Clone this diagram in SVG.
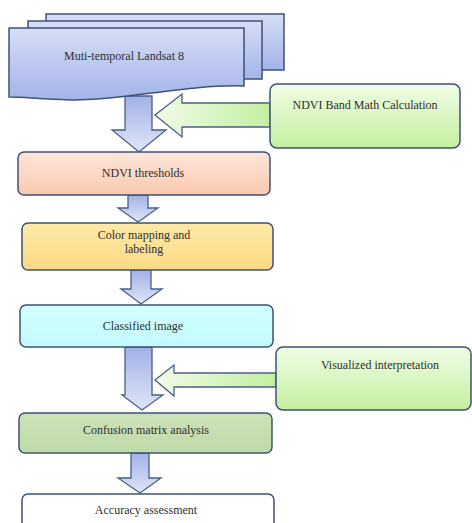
<svg xmlns="http://www.w3.org/2000/svg" width="472" height="523" viewBox="0 0 472 523">
<defs>
<linearGradient id="gDoc" x1="0" y1="0" x2="0" y2="1"><stop offset="0" stop-color="#d6ddf6"/><stop offset="1" stop-color="#a4b4ea"/></linearGradient>
<linearGradient id="gDown" x1="0" y1="0" x2="0" y2="1"><stop offset="0" stop-color="#a2b1e7"/><stop offset="1" stop-color="#dfe5f8"/></linearGradient>
<linearGradient id="gLeft" x1="0" y1="0" x2="1" y2="0"><stop offset="0" stop-color="#f0fbe8"/><stop offset="1" stop-color="#c3efa0"/></linearGradient>
<linearGradient id="gGreen" x1="0" y1="0" x2="0" y2="1"><stop offset="0" stop-color="#f0fde6"/><stop offset="1" stop-color="#c4efa0"/></linearGradient>
<linearGradient id="gPeach" x1="0" y1="0" x2="0" y2="1"><stop offset="0" stop-color="#fde6da"/><stop offset="1" stop-color="#fbc8b0"/></linearGradient>
<linearGradient id="gYellow" x1="0" y1="0" x2="0" y2="1"><stop offset="0" stop-color="#fde9a8"/><stop offset="1" stop-color="#fcda84"/></linearGradient>
<linearGradient id="gCyan" x1="0" y1="0" x2="0" y2="1"><stop offset="0" stop-color="#d2ffff"/><stop offset="1" stop-color="#c2fbfd"/></linearGradient>
<linearGradient id="gOlive" x1="0" y1="0" x2="0" y2="1"><stop offset="0" stop-color="#cbe2b8"/><stop offset="1" stop-color="#c0daa8"/></linearGradient>
</defs>
<style>
.box{stroke:#3e5275;stroke-width:1.5}
.doc{stroke:#3e5275;stroke-width:1.5;fill:url(#gDoc)}
.down{fill:url(#gDown);stroke:#4b5f86;stroke-width:1.3}
.left{fill:url(#gLeft);stroke:#4b5f86;stroke-width:1.3}
text{font-family:"Liberation Serif","Times New Roman",serif;font-size:12px;fill:#2f2f2f;text-anchor:middle}
</style>
<g id="connectors">
<path class="down" d="M125,96 H152 V130 H166 L139,152 L112,130 H125 Z"/>
<path class="left" d="M270,103 H182 V94 L155,115 L182,137 V127 H270 Z"/>
<path class="down" d="M128,195 H148 V208 H158 L138,222 L118,208 H128 Z"/>
<path class="down" d="M131,270 H151 V289 H162 L141,304 L121,289 H131 Z"/>
<path class="down" d="M125,347 H152 V395 H163 L142,410 L122,395 H125 Z"/>
<path class="left" d="M276,373 H174 V365 L155,380 L174,396 V387 H276 Z"/>
<path class="down" d="M131,453 H149 V478 H161 L140,493 L118,478 H131 Z"/>
</g>
<g id="landsat">
<rect class="doc" x="46" y="14" width="238" height="56"/>
<rect class="doc" x="28" y="21" width="234" height="58"/>
<path class="doc" d="M9,28 H244 V86 C185,84 125,101 70,100 C40,99 22,97 9,97 Z"/>
<text x="124" y="60">Muti-temporal Landsat 8</text>
</g>
<g id="ndvi-band-math">
<rect class="box" x="270" y="84" width="190" height="64" rx="7" fill="url(#gGreen)"/>
<text x="365" y="109">NDVI Band Math Calculation</text>
</g>
<g id="ndvi-thresholds">
<rect class="box" x="18" y="152" width="252" height="43" rx="6" fill="url(#gPeach)"/>
<text x="143" y="177">NDVI thresholds</text>
</g>
<g id="color-mapping">
<rect class="box" x="22" y="223" width="251" height="47" rx="6" fill="url(#gYellow)"/>
<text x="144" y="239">Color mapping and</text>
<text x="144" y="253">labeling</text>
</g>
<g id="classified">
<rect class="box" x="20" y="305" width="253" height="42" rx="6" fill="url(#gCyan)"/>
<text x="143" y="330">Classified image</text>
</g>
<g id="visualized">
<rect class="box" x="276" y="347" width="195" height="63" rx="7" fill="url(#gGreen)"/>
<text x="380" y="369">Visualized interpretation</text>
</g>
<g id="confusion">
<rect class="box" x="19" y="413" width="253" height="40" rx="6" fill="url(#gOlive)"/>
<text x="146" y="434">Confusion matrix analysis</text>
</g>
<g id="accuracy">
<rect class="box" x="22" y="494" width="252" height="40" rx="6" fill="#ffffff"/>
<text x="146" y="514">Accuracy assessment</text>
</g>
</svg>
